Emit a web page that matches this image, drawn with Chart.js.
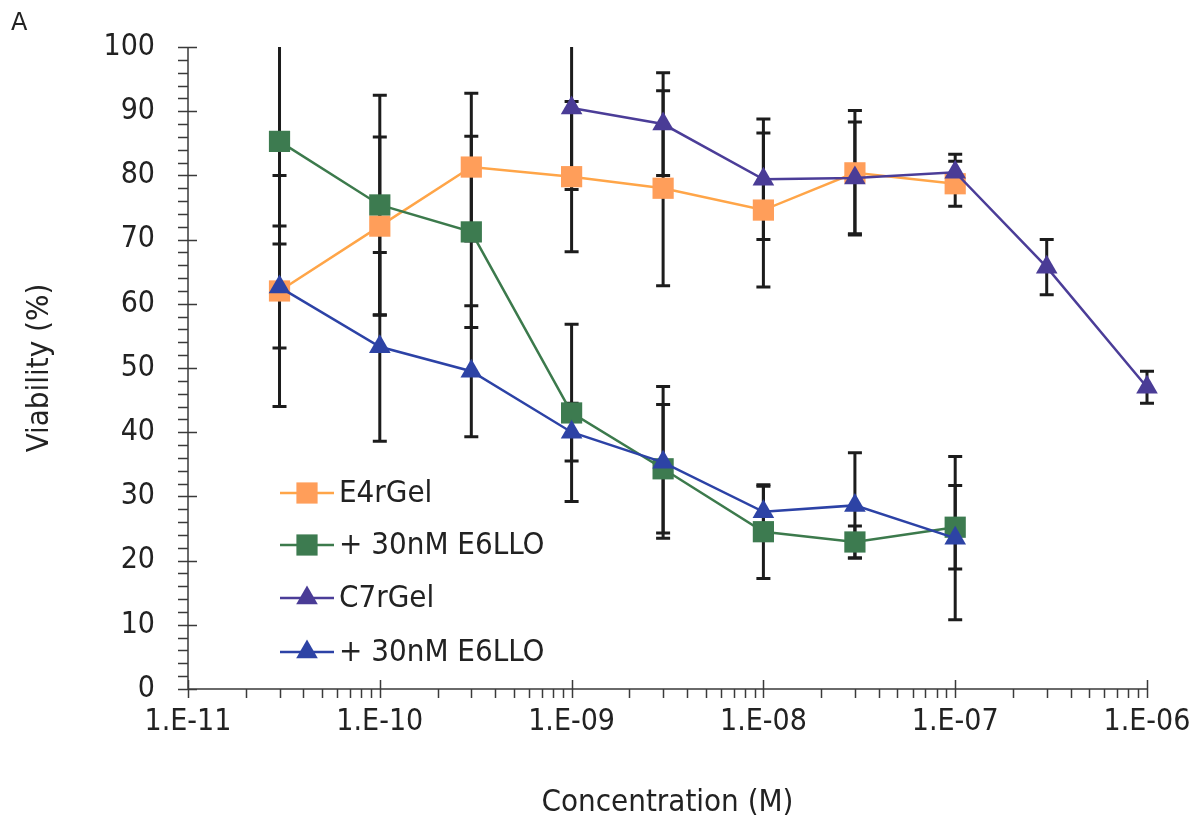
<!DOCTYPE html>
<html>
<head>
<meta charset="utf-8">
<script src="https://cdn.jsdelivr.net/npm/chart.js@4"></script>
<style>
  html, body { margin: 0; padding: 0; background: #fff; }
  #wrap { width: 1199px; height: 829px; position: relative; }
</style>
</head>
<body>
<div id="wrap"><canvas id="c" width="1199" height="829"></canvas></div>
<script>
// ---- data ----
const concE4 = [3e-11, 1e-10, 3e-10, 1e-9, 3e-9, 1e-8, 3e-8, 1e-7];
const e4rGel = [62.0, 72.1, 81.3, 79.8, 78.0, 74.6, 80.4, 78.7];
const e4rGelErr = [18.0, 13.9, 11.5, 11.7, 15.2, 12.0, 9.7, 3.5];
const e4rGelLLO = [85.3, 75.4, 71.2, 43.0, 34.3, 24.5, 22.9, 25.2];
const e4rGelLLOErr = [16.0, 17.1, 14.9, 13.8, 10.0, 7.3, 2.5, 6.5];
const concC7 = [1e-9, 3e-9, 1e-8, 3e-8, 1e-7, 3e-7, 1e-6];
const c7rGel = [90.5, 88.0, 79.4, 79.6, 80.5, 65.7, 47.0];
const c7rGelErr = [12.7, 8.0, 9.4, 8.7, 2.8, 4.3, 2.5];
const concC7LLO = [3e-11, 1e-10, 3e-10, 1e-9, 3e-9, 1e-8, 3e-8, 1e-7];
const c7rGelLLO = [62.6, 53.3, 49.5, 40.0, 35.3, 27.6, 28.6, 23.5];
const c7rGelLLOErr = [9.5, 14.7, 10.2, 4.5, 11.8, 4.0, 8.2, 12.7];
const seriesNames = ['E4rGel', '+ 30nM E6LLO', 'C7rGel', '+ 30nM E6LLO'];
const xTickValues = [1e-11, 1e-10, 1e-9, 1e-8, 1e-7, 1e-6];
const xTickLabels = ['1.E-11', '1.E-10', '1.E-09', '1.E-08', '1.E-07', '1.E-06'];
const yTickValues = [0, 10, 20, 30, 40, 50, 60, 70, 80, 90, 100];

const FONT = "'DejaVu Sans Condensed', 'DejaVu Sans', sans-serif";
const TXT = '#222222';

function pts(xs, ys) { return xs.map((x, i) => ({ x: x, y: ys[i] })); }

const styles = [
  { line: '#FFA548', fill: '#FF9E5A', shape: 'rect' },
  { line: '#3C7A4C', fill: '#3D7B50', shape: 'rect' },
  { line: '#4B3D98', fill: '#4A3C96', shape: 'triangle' },
  { line: '#2C42A6', fill: '#2D43A5', shape: 'triangle' }
];
const errs = [e4rGelErr, e4rGelLLOErr, c7rGelErr, c7rGelLLOErr];
const datas = [pts(concE4, e4rGel), pts(concE4, e4rGelLLO), pts(concC7, c7rGel), pts(concC7LLO, c7rGelLLO)];

const datasets = datas.map((d, i) => ({
  label: seriesNames[i],
  data: d,
  borderColor: styles[i].line,
  backgroundColor: styles[i].fill,
  borderWidth: 2.5,
  pointStyle: styles[i].shape,
  pointRadius: styles[i].shape === 'rect' ? 15 : 12.5,
  pointBackgroundColor: styles[i].fill,
  pointBorderColor: styles[i].fill,
  pointBorderWidth: 0,
  tension: 0,
  clip: false,
  order: 4 - i,
  errors: errs[i]
}));

function drawMarker(ctx, shape, x, y, r, color) {
  ctx.save();
  ctx.fillStyle = color;
  ctx.beginPath();
  if (shape === 'rect') {
    const s = Math.SQRT1_2 * r;
    ctx.rect(x - s, y - s, 2 * s, 2 * s);
  } else {
    ctx.moveTo(x, y - r);
    ctx.lineTo(x + r * Math.sin(2 * Math.PI / 3), y + r / 2);
    ctx.lineTo(x - r * Math.sin(2 * Math.PI / 3), y + r / 2);
    ctx.closePath();
  }
  ctx.fill();
  ctx.restore();
}

const errorBarPlugin = {
  id: 'errorBars',
  beforeDatasetsDraw(chart) {
    const ctx = chart.ctx, xs = chart.scales.x, ys = chart.scales.y, a = chart.chartArea;
    ctx.save();
    ctx.beginPath();
    ctx.rect(0, a.top, chart.width, a.bottom - a.top);
    ctx.clip();
    ctx.strokeStyle = '#1c1c1c';
    ctx.lineWidth = 3;
    chart.data.datasets.forEach(ds => {
      ds.data.forEach((p, i) => {
        const e = ds.errors[i];
        const px = xs.getPixelForValue(p.x);
        const y1 = ys.getPixelForValue(p.y + e);
        const y2 = ys.getPixelForValue(p.y - e);
        ctx.beginPath();
        ctx.moveTo(px, y1); ctx.lineTo(px, y2);
        ctx.moveTo(px - 7, y1); ctx.lineTo(px + 7, y1);
        ctx.moveTo(px - 7, y2); ctx.lineTo(px + 7, y2);
        ctx.stroke();
      });
    });
    ctx.restore();
  }
};

const axesPlugin = {
  id: 'axesDraw',
  beforeDatasetsDraw(chart) {
    const ctx = chart.ctx, xs = chart.scales.x, ys = chart.scales.y, a = chart.chartArea;
    ctx.save();
    ctx.strokeStyle = '#3a3a3a';
    ctx.lineWidth = 1.5;
    ctx.beginPath();
    ctx.moveTo(a.left, a.top); ctx.lineTo(a.left, a.bottom);
    ctx.moveTo(a.left, a.bottom); ctx.lineTo(a.right, a.bottom);
    for (let v = 0; v <= 100; v += 2) {
      const py = Math.round(ys.getPixelForValue(v)) + 0.5;
      if (v % 10 === 0) { ctx.moveTo(a.left - 10, py); ctx.lineTo(a.left + 9, py); }
      else { ctx.moveTo(a.left - 10, py); ctx.lineTo(a.left, py); }
    }
    for (let k = -11; k <= -6; k++) {
      for (let m = 1; m <= 9; m++) {
        const v = m * Math.pow(10, k);
        if (v > 1.0000001e-6) break;
        const px = Math.round(xs.getPixelForValue(v)) + 0.5;
        if (m === 1) { ctx.moveTo(px, a.bottom - 9); ctx.lineTo(px, a.bottom + 9); }
        else { ctx.moveTo(px, a.bottom); ctx.lineTo(px, a.bottom + 9); }
      }
    }
    ctx.stroke();
    ctx.restore();
  },
  afterDraw(chart) {
    const ctx = chart.ctx;
    ctx.save();
    ctx.fillStyle = TXT;
    ctx.font = "24px 'DejaVu Sans', sans-serif";
    ctx.textBaseline = 'alphabetic';
    ctx.textAlign = 'left';
    ctx.fillText('A', 11, 30);
    ctx.restore();

    const rows = [493, 545, 598, 652];
    chart.data.datasets.forEach((ds, i) => {
      const y = rows[i];
      ctx.save();
      ctx.strokeStyle = ds.borderColor;
      ctx.lineWidth = 2.5;
      ctx.beginPath();
      ctx.moveTo(280, y); ctx.lineTo(334, y);
      ctx.stroke();
      drawMarker(ctx, ds.pointStyle, 307, y, ds.pointRadius, ds.pointBackgroundColor);
      ctx.fillStyle = TXT;
      ctx.font = "31px " + FONT;
      ctx.textBaseline = 'middle';
      ctx.textAlign = 'left';
      ctx.fillText(ds.label, 339, y + 1);
      ctx.restore();
    });
  }
};

new Chart(document.getElementById('c'), {
  type: 'line',
  data: { datasets: datasets },
  plugins: [axesPlugin, errorBarPlugin],
  options: {
    responsive: false,
    animation: false,
    events: [],
    layout: { padding: { top: 47, right: 52, left: 0, bottom: 0 } },
    plugins: { legend: { display: false }, tooltip: { enabled: false } },
    scales: {
      x: {
        type: 'logarithmic',
        min: 1e-11,
        max: 1e-6,
        afterBuildTicks(scale) { scale.ticks = xTickValues.map(v => ({ value: v })); },
        afterFit(scale) { scale.height = 140; scale.paddingLeft = 0; scale.paddingRight = 0; },
        grid: { display: false, drawTicks: false },
        border: { display: false },
        ticks: {
          autoSkip: false,
          maxRotation: 0,
          padding: 15,
          color: TXT,
          font: { family: FONT, size: 30 },
          callback: function (v) {
            const i = xTickValues.findIndex(t => Math.abs(Math.log10(t) - Math.log10(v)) < 1e-6);
            return i >= 0 ? xTickLabels[i] : '';
          }
        },
        title: {
          display: true,
          text: 'Concentration (M)',
          color: TXT,
          font: { family: FONT, size: 31 },
          padding: { top: 0, bottom: 7 }
        }
      },
      y: {
        type: 'linear',
        min: 0,
        max: 100,
        afterBuildTicks(scale) { scale.ticks = yTickValues.map(v => ({ value: v })); },
        afterFit(scale) { scale.width = 188; scale.paddingTop = 0; scale.paddingBottom = 0; },
        grid: { display: false, drawTicks: false },
        border: { display: false },
        ticks: {
          padding: 33,
          color: TXT,
          font: { family: FONT, size: 30 }
        },
        title: {
          display: true,
          text: 'Viability (%)',
          color: TXT,
          font: { family: FONT, size: 31 },
          padding: { top: 21, bottom: 0 }
        }
      }
    }
  }
});
</script>
</body>
</html>
